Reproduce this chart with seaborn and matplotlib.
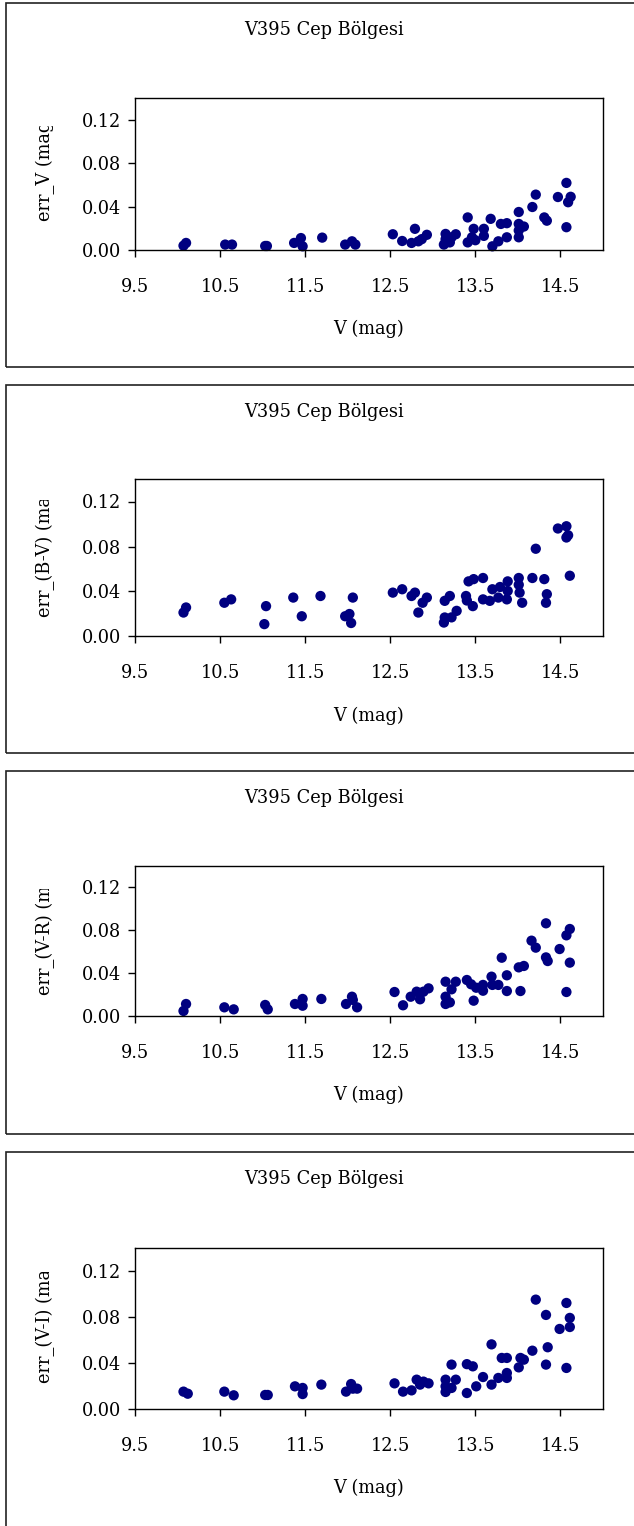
import matplotlib
matplotlib.use("Agg")
import matplotlib.pyplot as plt
import matplotlib.patches as mpatches
from matplotlib.transforms import Bbox, TransformedBbox
import seaborn as sns
import pandas as pd

# panel 1: err_V
v1 = [10.07, 10.10, 10.56, 10.64, 11.03, 11.05, 11.37, 11.45, 11.47, 11.70, 11.97, 12.05, 12.09,
      12.53, 12.64, 12.79, 12.75, 12.83, 12.87, 12.93, 13.13, 13.15, 13.15, 13.20, 13.22, 13.27,
      13.41, 13.41, 13.46, 13.48, 13.50, 13.60, 13.60, 13.68, 13.70, 13.77, 13.80, 13.87, 13.87,
      14.01, 14.01, 14.01, 14.01, 14.07, 14.17, 14.21, 14.31, 14.34, 14.47, 14.57, 14.57, 14.62, 14.59]
err_v = [0.004, 0.0065, 0.005, 0.005, 0.0037, 0.0037, 0.0065, 0.011, 0.0034, 0.0114, 0.005, 0.008, 0.005,
         0.0145, 0.0083, 0.0195, 0.0065, 0.008, 0.010, 0.014, 0.005, 0.010, 0.0148, 0.007, 0.0117, 0.0145,
         0.030, 0.007, 0.0117, 0.0195, 0.009, 0.0195, 0.013, 0.0287, 0.0034, 0.008, 0.024, 0.0247, 0.0117,
         0.035, 0.024, 0.018, 0.0117, 0.0216, 0.0396, 0.051, 0.030, 0.027, 0.0488, 0.0618, 0.021, 0.049, 0.044]

# panel 2: err_(B-V)
v2 = [10.07, 10.10, 10.55, 10.63, 11.02, 11.04, 11.36, 11.46, 11.68, 11.97, 12.02, 12.04, 12.06,
      12.53, 12.64, 12.75, 12.79, 12.83, 12.88, 12.93, 13.13, 13.14, 13.14, 13.20, 13.22, 13.28,
      13.39, 13.40, 13.42, 13.48, 13.47, 13.59, 13.59, 13.67, 13.70, 13.77, 13.79, 13.88, 13.88, 13.87,
      14.01, 14.01, 14.02, 14.05, 14.17, 14.21, 14.31, 14.34, 14.33, 14.47, 14.57, 14.57, 14.59, 14.61]
err_bv = [0.0213, 0.0258, 0.030, 0.033, 0.011, 0.027, 0.0346, 0.018, 0.036, 0.018, 0.020, 0.012, 0.0346,
          0.039, 0.042, 0.036, 0.039, 0.0213, 0.030, 0.0346, 0.0124, 0.0169, 0.0317, 0.036, 0.017, 0.0228,
          0.036, 0.032, 0.049, 0.051, 0.027, 0.052, 0.033, 0.0317, 0.042, 0.0346, 0.044, 0.049, 0.0405, 0.033,
          0.052, 0.046, 0.039, 0.030, 0.052, 0.078, 0.051, 0.0376, 0.030, 0.096, 0.098, 0.088, 0.090, 0.054]

# panel 3: err_(V-R)
v3 = [10.07, 10.10, 10.55, 10.66, 11.03, 11.06, 11.38, 11.47, 11.47, 11.69, 11.98, 12.05, 12.06, 12.11,
      12.55, 12.65, 12.74, 12.81, 12.85, 12.89, 12.95, 13.15, 13.15, 13.15, 13.20, 13.22, 13.27,
      13.40, 13.45, 13.48, 13.51, 13.59, 13.59, 13.69, 13.70, 13.77, 13.81, 13.87, 13.87,
      14.01, 14.07, 14.03, 14.16, 14.21, 14.33, 14.33, 14.35, 14.49, 14.57, 14.61, 14.61, 14.57]
err_vr = [0.0047, 0.0112, 0.0081, 0.0062, 0.0103, 0.0062, 0.0112, 0.0159, 0.0096, 0.0159, 0.0112, 0.018, 0.015, 0.0081,
          0.0224, 0.010, 0.018, 0.0227, 0.0156, 0.0227, 0.0258, 0.032, 0.018, 0.0112, 0.0127, 0.0249, 0.032,
          0.0336, 0.0296, 0.0143, 0.0264, 0.0236, 0.029, 0.0367, 0.029, 0.029, 0.0544, 0.038, 0.0233,
          0.0454, 0.0467, 0.0233, 0.0703, 0.0638, 0.0865, 0.0547, 0.0513, 0.0625, 0.0753, 0.0812, 0.0498, 0.0224]

# panel 4: err_(V-I)
v4 = [10.07, 10.12, 10.55, 10.66, 11.03, 11.06, 11.38, 11.47, 11.47, 11.69, 11.98, 12.04, 12.06, 12.11,
      12.55, 12.65, 12.75, 12.81, 12.85, 12.89, 12.95, 13.15, 13.15, 13.15, 13.22, 13.22, 13.27,
      13.40, 13.40, 13.47, 13.51, 13.59, 13.69, 13.69, 13.77, 13.81, 13.87, 13.87, 13.87,
      14.01, 14.03, 14.07, 14.17, 14.21, 14.33, 14.35, 14.33, 14.49, 14.57, 14.61, 14.61, 14.57]
err_vi = [0.0151, 0.0133, 0.0151, 0.0119, 0.0122, 0.0122, 0.0197, 0.0183, 0.013, 0.0212, 0.0151, 0.0217, 0.0177, 0.0177,
          0.0223, 0.0151, 0.0162, 0.0255, 0.0212, 0.0238, 0.0223, 0.0255, 0.0197, 0.0148, 0.0386, 0.0183, 0.0255,
          0.039, 0.0139, 0.0371, 0.0197, 0.0278, 0.0562, 0.0212, 0.027, 0.0444, 0.0444, 0.0313, 0.027,
          0.0362, 0.0444, 0.0429, 0.0507, 0.0951, 0.0818, 0.0537, 0.0386, 0.0696, 0.0922, 0.0792, 0.0713, 0.0357]

panels = [(v1, err_v, "err_V (mag)"),
          (v2, err_bv, "err_(B-V) (mag)"),
          (v3, err_vr, "err_(V-R) (mag)"),
          (v4, err_vi, "err_(V-I) (mag)")]

title = "V395 Cep Bölgesi"
xlabel = "V (mag)"
xticks = [9.5, 10.5, 11.5, 12.5, 13.5, 14.5]
yticks = [0.00, 0.04, 0.08, 0.12]

sns.set_style("white")
plt.rcParams["font.family"] = ["DejaVu Serif"]
plt.rcParams["text.color"] = "black"

W, H = 634, 1526
fig = plt.figure(figsize=(W / 100, H / 100), dpi=100)

# pixel layout (top, bottom) of outer boxes and plot areas
boxes = [(3, 367), (385, 753), (771, 1134), (1152, 1540)]
plots = [(98, 250), (479, 636.5), (866, 1016), (1248, 1409)]
lab_bottom = [221, 617, 995, 1383]
lab_top = [126, 500, 889, 1272]
px_l, px_r = 135, 603
fs = 12.8

for (vv, ee, ylab), (bt, bb), (pt, pb), lb, ltop in zip(panels, boxes, plots, lab_bottom, lab_top):
    rect = mpatches.Rectangle((6 / W, 1 - bb / H), 700 / W, (bb - bt) / H,
                              transform=fig.transFigure, fill=False,
                              edgecolor="#222222", linewidth=1.2)
    fig.patches.append(rect)

    ax = fig.add_axes([px_l / W, 1 - pb / H, (px_r - px_l) / W, (pb - pt) / H])
    df = pd.DataFrame({"V": vv, "err": ee})
    sns.scatterplot(data=df, x="V", y="err", ax=ax, color="#000080",
                    s=55, linewidth=0, edgecolor="none", clip_on=False)
    ax.set_xlim(9.5, 15.0)
    ax.set_ylim(0, 0.14)
    ax.set_xticks(xticks)
    ax.set_yticks(yticks)
    ax.set_xticklabels([f"{t:.1f}" for t in xticks], fontsize=fs)
    ax.set_yticklabels([f"{t:.2f}" for t in yticks], fontsize=fs)
    ax.tick_params(axis="x", direction="out", length=5, width=1, pad=15, colors="black", bottom=True)
    ax.tick_params(axis="y", direction="out", length=5, width=1, pad=5, colors="black", left=True)
    for sp in ax.spines.values():
        sp.set_color("black")
        sp.set_linewidth(1)
    ax.set_xlabel("")
    ax.set_ylabel("")

    # title and axis titles placed like the spreadsheet chart
    fig.text(324 / W, 1 - (bt + 27) / H, title, ha="center", va="center", fontsize=fs)
    fig.text((px_l + px_r) / 2 / W, 1 - (pb + 79) / H, xlabel, ha="center", va="center", fontsize=fs)
    t = fig.text(45 / W, 1 - lb / H, ylab, rotation=90, ha="center", va="bottom", fontsize=fs)
    clip = TransformedBbox(Bbox.from_extents(0, 1 - lb / H - 0.01, 0.2, 1 - ltop / H), fig.transFigure)
    t.set_clip_box(clip)
    t.set_clip_on(True)

fig.savefig("out.png", dpi=100)
